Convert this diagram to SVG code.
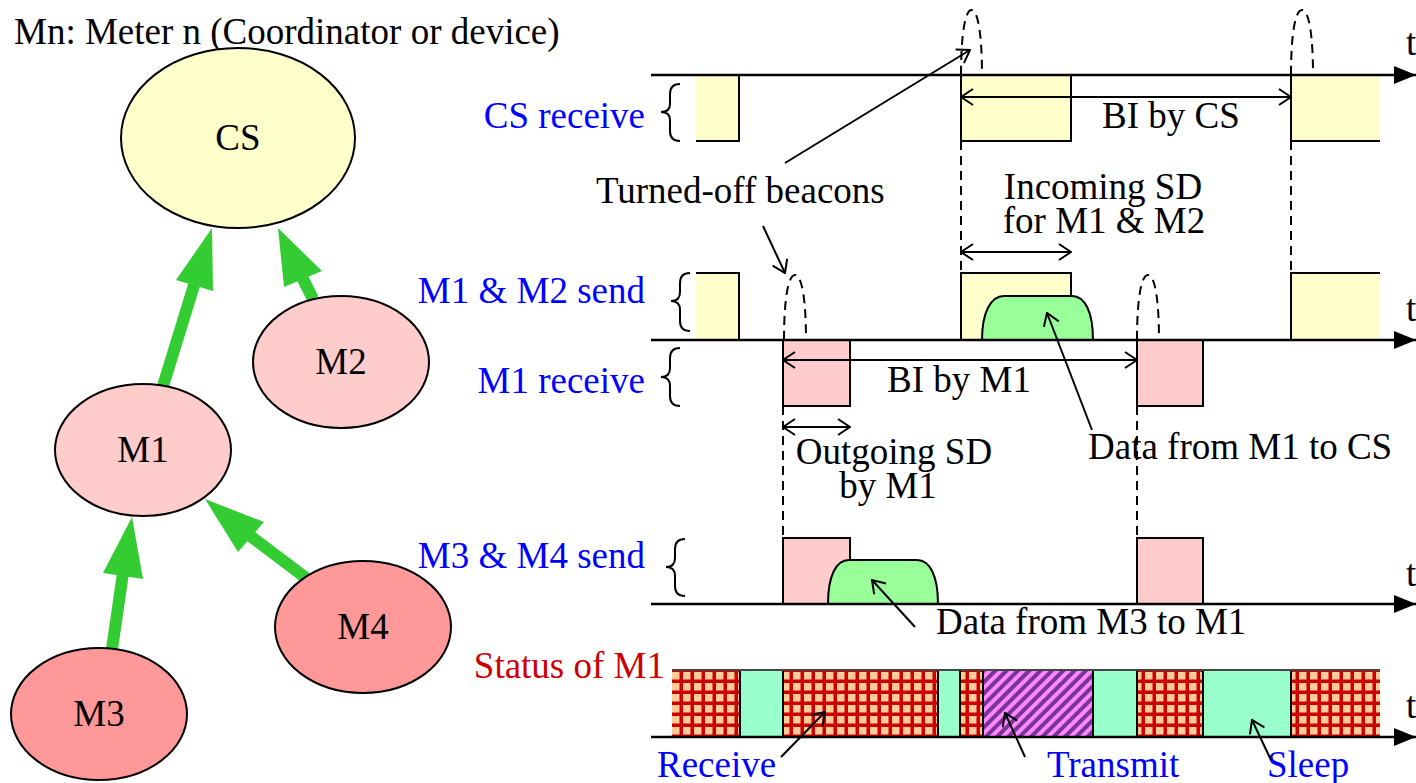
<svg xmlns="http://www.w3.org/2000/svg" width="1416" height="783" viewBox="0 0 1416 783">
<style>
text{font-family:"Liberation Serif","Times New Roman",serif;font-size:37px;fill:#000}
.lbl{fill:#0000ff}
.red{fill:#cc0000}
.node{stroke:#000;stroke-width:2}
.ln{stroke:#000;stroke-width:2;fill:none}
.ax{stroke:#000;stroke-width:2.5;fill:none}
.dash{stroke:#000;stroke-width:2;fill:none;stroke-dasharray:9,6}
.garrow{stroke:#33cc33;stroke-width:12;fill:none}
.ghead{fill:#33cc33}
.yel{fill:#ffffcc}
.pink{fill:#ffcccc}
.sleep{fill:#99ffcc;stroke:#000;stroke-width:2}
.data{fill:#99ff99;stroke:#000;stroke-width:2}
</style>
<defs>
<marker id="open" viewBox="0 0 14 18" refX="13" refY="9" markerWidth="14" markerHeight="18" markerUnits="userSpaceOnUse" orient="auto-start-reverse">
<path d="M1,1 L13,9 L1,17" fill="none" stroke="#000" stroke-width="2"/>
</marker>
<marker id="solid" viewBox="0 0 22 18" refX="22" refY="9" markerWidth="22" markerHeight="18" markerUnits="userSpaceOnUse" orient="auto">
<path d="M0,0 L22,9 L0,18 Z" fill="#000"/>
</marker>
<pattern id="grid" width="11" height="11" patternUnits="userSpaceOnUse" x="672" y="672">
<rect width="11" height="11" fill="#ffcc99"/>
<rect x="7.5" width="3.5" height="11" fill="#cc0000"/>
<rect y="7.5" width="11" height="3.5" fill="#cc0000"/>
</pattern>
<pattern id="stripe" width="8" height="8" patternUnits="userSpaceOnUse" patternTransform="rotate(45)">
<rect width="8" height="8" fill="#ff88ff"/>
<rect width="4" height="8" fill="#7a3398"/>
</pattern>
</defs>

<text x="14" y="44">Mn: Meter n (Coordinator or device)</text>

<g id="connectors">
<line class="garrow" x1="163" y1="386" x2="195" y2="282"/>
<polygon class="ghead" points="212,228 176,280 213,291"/>
<line class="garrow" x1="313" y1="299" x2="302" y2="277"/>
<polygon class="ghead" points="278,228 284,287 322,271"/>
<line class="garrow" x1="112" y1="649" x2="123" y2="573"/>
<polygon class="ghead" points="132,517 103,573 143,579"/>
<line class="garrow" x1="306" y1="578" x2="249" y2="535"/>
<polygon class="ghead" points="205,499 238,552 264,522"/>
</g>

<g id="CS">
<ellipse class="node" cx="238" cy="138" rx="117" ry="90" fill="#ffffcc"/>
<text x="238" y="150" text-anchor="middle">CS</text>
</g>
<g id="M2">
<ellipse class="node" cx="341" cy="362" rx="88" ry="66" fill="#ffcccc"/>
<text x="341" y="374" text-anchor="middle">M2</text>
</g>
<g id="M1">
<ellipse class="node" cx="143" cy="450" rx="88" ry="66" fill="#ffcccc"/>
<text x="143" y="462" text-anchor="middle">M1</text>
</g>
<g id="M4">
<ellipse class="node" cx="363" cy="627" rx="88" ry="66" fill="#ff9999"/>
<text x="363" y="639" text-anchor="middle">M4</text>
</g>
<g id="M3">
<ellipse class="node" cx="99" cy="714" rx="88" ry="66" fill="#ff9999"/>
<text x="99" y="726" text-anchor="middle">M3</text>
</g>

<g id="timing">
<!-- row 1 CS receive -->
<rect class="yel" x="696" y="75" width="43" height="66"/>
<path class="ln" d="M739,75 V141 H696"/>
<rect class="yel" x="961" y="75" width="110" height="66"/>
<path class="ln" d="M961,75 V141 H1071 V75"/>
<rect class="yel" x="1291" y="75" width="89" height="66"/>
<path class="ln" d="M1291,75 V141 H1380"/>
<path class="dash" d="M961,75 C961,35 965,10 971.5,10 C978,10 982,35 982,75"/>
<path class="dash" d="M1291,75 C1291,35 1295,10 1302,10 C1309,10 1313,35 1313,75"/>
<line class="ax" x1="651" y1="75" x2="1416" y2="75" marker-end="url(#solid)"/>
<text x="1406" y="55">t</text>
<line class="ln" x1="961" y1="97" x2="1291" y2="97" marker-start="url(#open)" marker-end="url(#open)"/>
<text x="1102" y="128">BI by CS</text>
<path class="ln" d="M680,84 Q670,84 670,94 V104 Q670,112 661,112 Q670,112 670,120 V131 Q670,141 680,141"/>
<text class="lbl" x="645" y="128" text-anchor="end">CS receive</text>

<line class="dash" x1="961" y1="141" x2="961" y2="273"/>
<line class="dash" x1="1291" y1="141" x2="1291" y2="273"/>

<text x="596" y="203">Turned-off beacons</text>
<line class="ln" x1="785" y1="163" x2="970" y2="50" marker-end="url(#open)"/>
<line class="ln" x1="763" y1="226" x2="785" y2="273" marker-end="url(#open)"/>

<text x="1103" y="199" text-anchor="middle">Incoming SD</text>
<text x="1104" y="233" text-anchor="middle">for M1 &amp; M2</text>
<line class="ln" x1="961" y1="252" x2="1071" y2="252" marker-start="url(#open)" marker-end="url(#open)"/>

<!-- row 2 M1 & M2 send -->
<rect class="yel" x="696" y="273" width="43" height="67"/>
<path class="ln" d="M696,273 H739 V340"/>
<rect class="yel" x="961" y="273" width="110" height="67"/>
<path class="ln" d="M961,340 V273 H1071 V340"/>
<rect class="yel" x="1291" y="273" width="89" height="67"/>
<path class="ln" d="M1291,340 V273 H1380"/>
<path class="data" d="M982,340 C982,312 991,296 1004,296 L1072,296 C1085,296 1093,312 1093,340 Z"/>
<path class="dash" d="M784,340 C784,300 788,275 795,275 C802,275 806,300 806,340"/>
<path class="dash" d="M1137,340 C1137,300 1141,275 1148,275 C1155,275 1159,300 1159,340"/>
<path class="ln" d="M690,273 Q680,273 680,283 V292 Q680,301 671,301 Q680,301 680,310 V321 Q680,331 690,331"/>
<text class="lbl" x="645" y="303" text-anchor="end">M1 &amp; M2 send</text>

<!-- row 3 M1 receive -->
<rect class="pink" x="783" y="340" width="67" height="66"/>
<path class="ln" d="M783,340 V406 H850 V340"/>
<rect class="pink" x="1137" y="340" width="66" height="66"/>
<path class="ln" d="M1137,340 V406 H1203 V340"/>
<line class="ax" x1="651" y1="340" x2="1416" y2="340" marker-end="url(#solid)"/>
<text x="1406" y="321">t</text>
<line class="ln" x1="783" y1="360" x2="1137" y2="360" marker-start="url(#open)" marker-end="url(#open)"/>
<text x="887" y="392">BI by M1</text>
<path class="ln" d="M680,348 Q670,348 670,358 V368 Q670,377 661,377 Q670,377 670,386 V396 Q670,406 680,406"/>
<text class="lbl" x="645" y="393" text-anchor="end">M1 receive</text>

<line class="ln" x1="783" y1="427" x2="850" y2="427" marker-start="url(#open)" marker-end="url(#open)"/>
<text x="894" y="464" text-anchor="middle">Outgoing SD</text>
<text x="888" y="498" text-anchor="middle">by M1</text>
<line class="dash" x1="783" y1="406" x2="783" y2="538"/>
<line class="dash" x1="1137" y1="406" x2="1137" y2="538"/>

<text x="1088" y="459">Data from M1 to CS</text>
<line class="ln" x1="1092" y1="430" x2="1047" y2="313" marker-end="url(#open)"/>

<!-- row 4 M3 & M4 send -->
<rect class="pink" x="783" y="538" width="67" height="66"/>
<path class="ln" d="M783,604 V538 H850 V604"/>
<rect class="pink" x="1137" y="538" width="66" height="66"/>
<path class="ln" d="M1137,604 V538 H1203 V604"/>
<path class="data" d="M828,604 C828,576 836,560 849,560 L917,560 C930,560 938,576 938,604 Z"/>
<line class="ax" x1="651" y1="604" x2="1416" y2="604" marker-end="url(#solid)"/>
<text x="1406" y="586">t</text>
<path class="ln" d="M685,539 Q675,539 675,549 V558 Q675,567 666,567 Q675,567 675,576 V586 Q675,596 685,596"/>
<text class="lbl" x="645" y="568" text-anchor="end">M3 &amp; M4 send</text>
<text x="936" y="634">Data from M3 to M1</text>
<line class="ln" x1="915" y1="627" x2="872" y2="580" marker-end="url(#open)"/>

<!-- row 5 status -->
<rect x="672" y="670" width="708" height="67" fill="url(#grid)"/>
<rect x="983" y="670" width="110" height="67" fill="url(#stripe)" stroke="#000" stroke-width="2"/>
<rect class="sleep" x="740" y="670" width="43" height="67"/>
<rect class="sleep" x="938" y="670" width="22" height="67"/>
<rect class="sleep" x="1093" y="670" width="44" height="67"/>
<rect class="sleep" x="1203" y="670" width="88" height="67"/>
<line x1="672" y1="670" x2="1380" y2="670" stroke="#444" stroke-width="2"/>
<line class="ax" x1="651" y1="737" x2="1416" y2="737" marker-end="url(#solid)"/>
<text x="1406" y="718">t</text>
<text class="red" x="665" y="678" text-anchor="end">Status of M1</text>
<text class="lbl" x="657" y="777">Receive</text>
<text class="lbl" x="1047" y="777">Transmit</text>
<text class="lbl" x="1267" y="777">Sleep</text>
<line class="ln" x1="781" y1="757" x2="825" y2="712" marker-end="url(#open)"/>
<line class="ln" x1="1025" y1="757" x2="1005" y2="713" marker-end="url(#open)"/>
<line class="ln" x1="1271" y1="760" x2="1252" y2="720" marker-end="url(#open)"/>
</g>
</svg>
